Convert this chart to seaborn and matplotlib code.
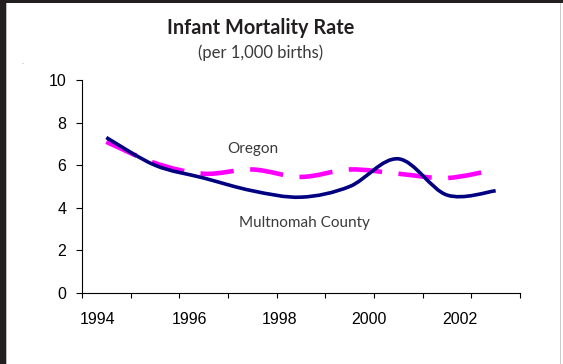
import numpy as np
import pandas as pd
import matplotlib
matplotlib.use("Agg")
import matplotlib.pyplot as plt
import seaborn as sns
from matplotlib.path import Path
from matplotlib.patches import PathPatch, Rectangle

# Infant deaths per 1,000 births
years = [1994, 1995, 1996, 1997, 1998, 1999, 2000, 2001, 2002]
multnomah = [7.3, 6.0, 5.4, 4.8, 4.5, 5.0, 6.3, 4.6, 4.8]
oregon = [7.1, 6.1, 5.6, 5.8, 5.45, 5.8, 5.6, 5.4, 5.8]

year_labels = ["1994", "1996", "1998", "2000", "2002"]
year_label_pos = [1993.83, 1995.70, 1997.55, 1999.40, 2001.27]
y_ticks = [0, 2, 4, 6, 8, 10]

NAVY = "#000080"
MAGENTA = "#ff00ff"
TEXT_GRAY = "#3a3a3a"

df = pd.DataFrame({
    "year": years * 2,
    "rate": multnomah + oregon,
    "area": ["Multnomah County"] * len(years) + ["Oregon"] * len(years),
})

sns.set_theme(style="white")
plt.rcParams["font.family"] = ["Liberation Sans", "DejaVu Sans"]

fig = plt.figure(figsize=(5.63, 3.64), dpi=100)
ax = fig.add_axes([0.1456, 0.195, 0.778, 0.5852])

sns.lineplot(data=df, x="year", y="rate", hue="area",
             palette={"Multnomah County": NAVY, "Oregon": MAGENTA},
             legend=False, ax=ax)


def smooth_path(xy):
    """Bezier path through the points, with tangents from the neighbours."""
    pts = np.asarray(xy, dtype=float)
    n = len(pts)
    verts = [pts[0]]
    codes = [Path.MOVETO]
    for i in range(n - 1):
        p0 = pts[i - 1] if i > 0 else pts[i]
        p1, p2 = pts[i], pts[i + 1]
        p3 = pts[i + 2] if i + 2 < n else pts[i + 1]
        verts += [p1 + (p2 - p0) / 6.0, p2 - (p3 - p1) / 6.0, p2]
        codes += [Path.CURVE4] * 3
    return Path(verts, codes)


styles = {
    NAVY: dict(lw=2.6, ls="-", z=4),
    MAGENTA: dict(lw=3.3, ls=(0, (7.3, 3.6)), z=3),
}
for line in list(ax.lines):
    color = matplotlib.colors.to_hex(line.get_color())
    st = styles[color]
    patch = PathPatch(smooth_path(line.get_xydata()), facecolor="none",
                      edgecolor=color, linewidth=st["lw"], linestyle=st["ls"],
                      capstyle="butt", joinstyle="round", zorder=st["z"])
    ax.add_patch(patch)
    line.set_visible(False)

# Axes, ticks and limits
ax.set_xlim(1993.5, 2002.5)
ax.set_ylim(0, 10)
ax.set_xlabel("")
ax.set_ylabel("")
for side in ("top", "right"):
    ax.spines[side].set_visible(False)
for side in ("left", "bottom"):
    ax.spines[side].set_color("black")
    ax.spines[side].set_linewidth(0.8)

ax.set_xticks(np.arange(1993.5, 2003.0, 1.0))
ax.set_xticklabels([])
ax.set_xticks(year_label_pos, minor=True)
ax.set_xticklabels(year_labels, minor=True)
ax.tick_params(axis="x", which="major", direction="out", length=3.8,
               width=0.8, color="black", bottom=True)
ax.tick_params(axis="x", which="minor", length=0, pad=13.5,
               labelsize=11.5, labelcolor="black", bottom=True)

ax.set_yticks(y_ticks)
ax.set_yticklabels([str(v) for v in y_ticks])
ax.tick_params(axis="y", direction="out", length=4.3, width=0.8,
               color="black", pad=7, labelsize=11.5, labelcolor="black",
               left=True)

# Series labels
label_font = ["Lato", "DejaVu Sans"]
ax.text(1997.01, 6.76, "Oregon", ha="center", va="center", fontsize=11,
        color=TEXT_GRAY, family=label_font)
ax.text(1998.08, 3.3, "Multnomah County", ha="center", va="center",
        fontsize=11, color=TEXT_GRAY, family=label_font)

# Titles
fig.text(260.5 / 563, 1 - 28 / 364, "Infant Mortality Rate", ha="center",
         va="center", fontsize=14.3, fontweight="bold", color="#231f20",
         family=label_font)
fig.text(261 / 563, 1 - 53 / 364, "(per 1,000 births)", ha="center",
         va="center", fontsize=12, color=TEXT_GRAY, family=label_font)
fig.text(0.039, 1 - 63 / 364, ".", ha="center", va="center", fontsize=5,
         color="#777777")

# Page frame edges
fig.patches.append(Rectangle((0, 0), 6 / 563, 1, transform=fig.transFigure,
                             facecolor="#231f20", edgecolor="none"))
fig.patches.append(Rectangle((0, 1 - 2.5 / 364), 1, 2.5 / 364,
                             transform=fig.transFigure,
                             facecolor="#231f20", edgecolor="none"))
fig.patches.append(Rectangle((6 / 563, 0), 1 / 563, 1 - 2.5 / 364,
                             transform=fig.transFigure,
                             facecolor="#bbbbbb", edgecolor="none"))
fig.patches.append(Rectangle((559.5 / 563, 0), 1 / 563, 1 - 2.5 / 364,
                             transform=fig.transFigure,
                             facecolor="#cccccc", edgecolor="none"))

fig.savefig("out.png", dpi=100, facecolor="white")
